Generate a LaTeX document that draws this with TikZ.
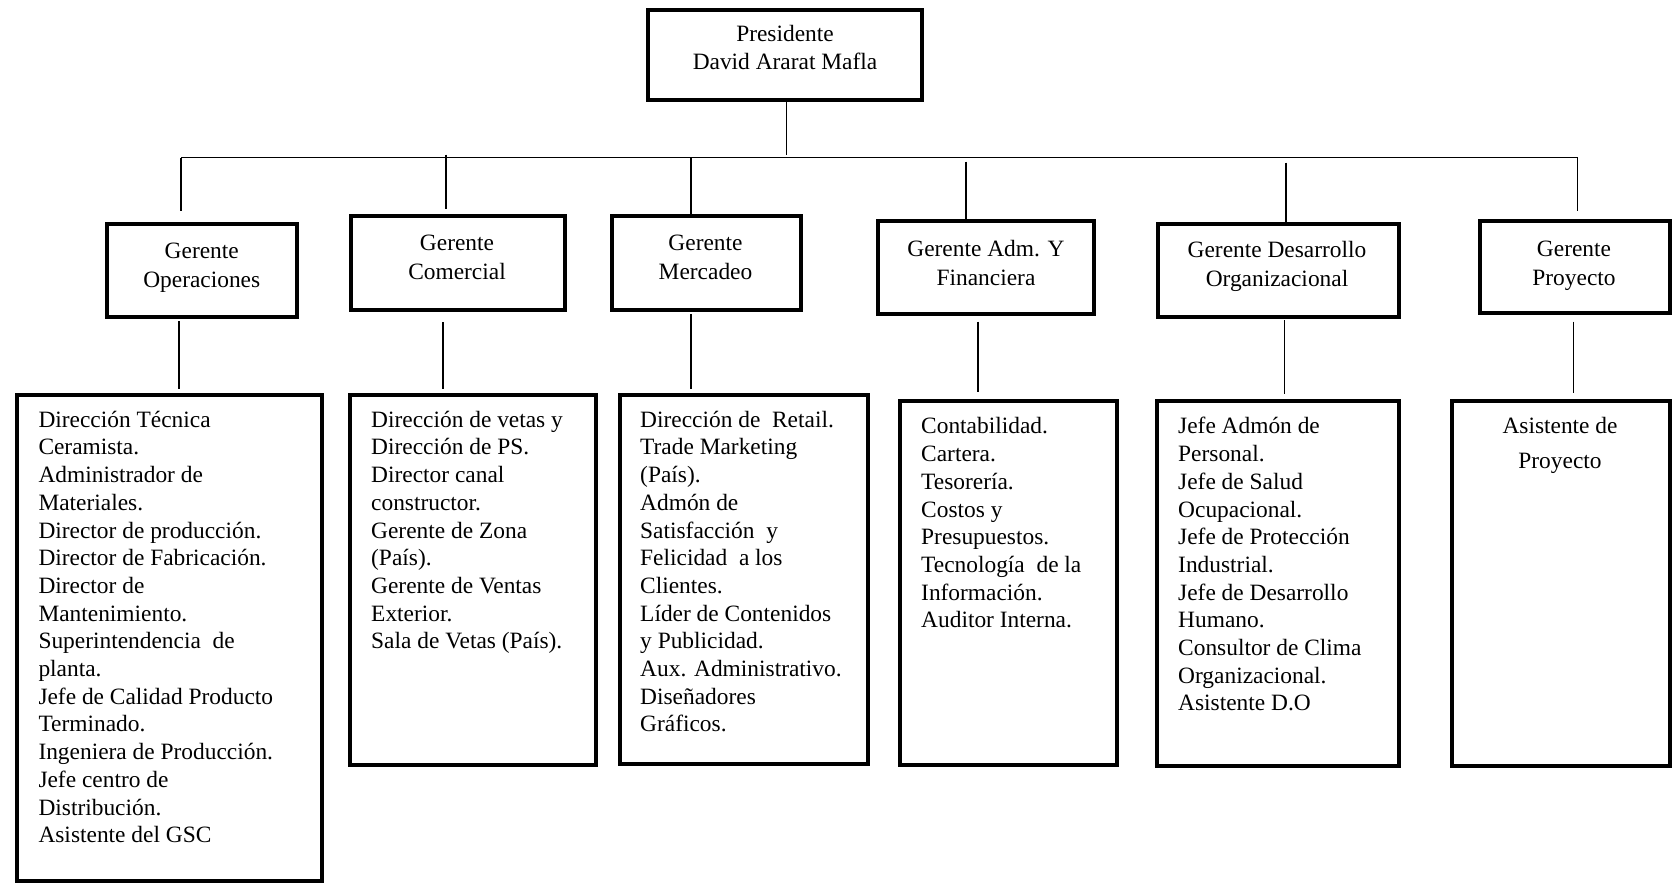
\documentclass[tikz,border=0pt]{standalone}
\usepackage{fontspec}
\setmainfont{Liberation Serif}
\tikzset{
  bx/.style={draw=black, line width=4pt, inner sep=0pt, outer sep=0pt},
  conn/.style={draw=black, line width=1.2pt},
  uptext/.style={anchor=north, inner sep=0pt, align=center, font=\fontsize{23.4}{29}\selectfont},
  lowtext/.style={anchor=north west, inner sep=0pt, align=left, font=\fontsize{23.4}{27.7}\selectfont}
}
\newcommand{\fs}{\rule{0pt}{18pt}}
\begin{document}
\begin{tikzpicture}[x=1pt,y=-1pt]
\useasboundingbox (0,0) rectangle (1675,884);

% upper boxes
\node[bx, minimum width=274pt, minimum height=90pt] (pres) at (785,54.5) {};
\node[bx, minimum width=189.5pt, minimum height=93pt] (gops) at (201.75,270.5) {};
\node[bx, minimum width=214pt, minimum height=94pt] (gcom) at (458,263) {};
\node[bx, minimum width=189pt, minimum height=94pt] (gmer) at (706,263) {};
\node[bx, minimum width=216pt, minimum height=93pt] (gadm) at (986,267.5) {};
\node[bx, minimum width=241pt, minimum height=93pt] (gdes) at (1278.5,270.5) {};
\node[bx, minimum width=190pt, minimum height=92pt] (gpro) at (1575,267) {};

% upper texts
\node[uptext, font=\fontsize{23.4}{27.7}\selectfont] (tpres) at (785,23.7) {\fs Presidente\\David Ararat Mafla};
\node[uptext] (tgops) at (201.75,240) {\fs Gerente\\Operaciones};
\node[uptext] (tgcom) at (457,232) {\fs Gerente\\Comercial};
\node[uptext] (tgmer) at (705.5,232) {\fs Gerente\\Mercadeo};
\node[uptext] (tgadm) at (986,238) {\fs Gerente Adm. Y\\Financiera};
\node[uptext] (tgdes) at (1277,239.3) {\fs Gerente Desarrollo\\Organizacional};
\node[uptext] (tgpro) at (1574,238) {\fs Gerente\\Proyecto};

% lower boxes
\node[bx, minimum width=305pt, minimum height=486.5pt] (lops) at (169,637.75) {};
\node[bx, minimum width=246pt, minimum height=370.5pt] (lcom) at (473,579.75) {};
\node[bx, minimum width=248.5pt, minimum height=369.5pt] (lmer) at (743.75,579.25) {};
\node[bx, minimum width=216.5pt, minimum height=364pt] (ladm) at (1008.25,583) {};
\node[bx, minimum width=242pt, minimum height=365pt] (ldes) at (1278,583.5) {};
\node[bx, minimum width=218pt, minimum height=365pt] (lpro) at (1561,583.5) {};

% lower texts
\node[lowtext] (tlops) at (38.3,409) {\fs Dirección Técnica\\Ceramista.\\Administrador de\\Materiales.\\Director de producción.\\Director de Fabricación.\\Director de\\Mantenimiento.\\Superintendencia\ \ de\\planta.\\Jefe de Calidad Producto\\Terminado.\\Ingeniera de Producción.\\Jefe centro de\\Distribución.\\Asistente del GSC};
\node[lowtext] (tlcom) at (371,409) {\fs Dirección de vetas y\\Dirección de PS.\\Director canal\\constructor.\\Gerente de Zona\\(País).\\Gerente de Ventas\\Exterior.\\Sala de Vetas (País).};
\node[lowtext] (tlmer) at (640,409) {\fs Dirección de\ \ Retail.\\Trade Marketing\\(País).\\Admón de\\Satisfacción\ \ y\\Felicidad\ \ a los\\Clientes.\\Líder de Contenidos\\y Publicidad.\\Aux. Administrativo.\\Diseñadores\\Gráficos.};
\node[lowtext] (tladm) at (921,415.7) {\fs Contabilidad.\\Cartera.\\Tesorería.\\Costos y\\Presupuestos.\\Tecnología\ \ de la\\Información.\\Auditor Interna.};
\node[lowtext] (tldes) at (1178,415.7) {\fs Jefe Admón de\\Personal.\\Jefe de Salud\\Ocupacional.\\Jefe de Protección\\Industrial.\\Jefe de Desarrollo\\Humano.\\Consultor de Clima\\Organizacional.\\Asistente D.O};
\node[lowtext, anchor=north, align=center, font=\fontsize{23.4}{35}\selectfont] (tlpro) at (1560,415.7) {\fs Asistente de\\Proyecto};

% bus and drops
\coordinate (c1) at (181,157.5);
\coordinate (c2) at (446,157.5);
\coordinate (c3) at (691,157.5);
\coordinate (c4) at (966,157.5);
\coordinate (c5) at (1286,157.5);
\coordinate (c6) at (1577.7,157.5);
\coordinate (pc) at (786.5,157.5);

\draw[conn] (c1) -- (c6);
\draw[conn] (pres.south -| pc) -- ([yshift=3pt]pc);
\draw[conn, shorten >=13pt] (c1) -- (c1 |- gops.north);
\draw[conn, shorten <=-3pt, shorten >=7pt] (c2) -- (c2 |- gcom.north);
\draw[conn, shorten >=1pt] (c3) -- (c3 |- gmer.north);
\draw[conn, shorten <=4pt, shorten >=2pt] (c4) -- (c4 |- gadm.north);
\draw[conn, shorten <=5pt, shorten >=2pt] (c5) -- (c5 |- gdes.north);
\draw[conn, shorten >=10pt] (c6) -- (c6 |- gpro.north);

% lower connectors
\coordinate (x1) at (179,0);
\coordinate (x2) at (443,0);
\coordinate (x3) at (691,0);
\coordinate (x4) at (978,0);
\coordinate (x5) at (1284.5,0);
\coordinate (x6) at (1573.5,0);
\draw[conn, shorten <=4pt, shorten >=6pt] (gops.south -| x1) -- (lops.north -| x1);
\draw[conn, shorten <=12pt, shorten >=6pt] (gcom.south -| x2) -- (lcom.north -| x2);
\draw[conn, shorten <=4pt, shorten >=6pt] (gmer.south -| x3) -- (lmer.north -| x3);
\draw[conn, shorten <=7.5pt, shorten >=9pt] (gadm.south -| x4) -- (ladm.north -| x4);
\draw[conn, shorten <=3pt, shorten >=7pt] (gdes.south -| x5) -- (ldes.north -| x5);
\draw[conn, shorten <=8.5pt, shorten >=8pt] (gpro.south -| x6) -- (lpro.north -| x6);
\end{tikzpicture}
\end{document}
